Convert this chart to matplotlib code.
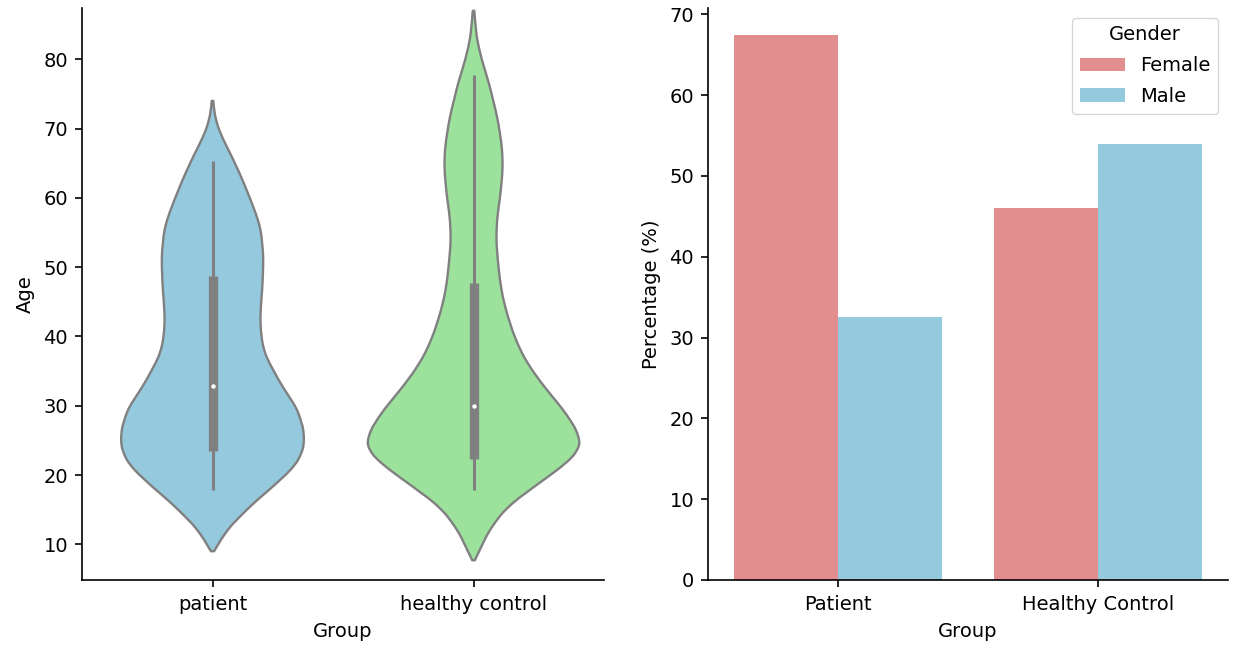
import matplotlib
matplotlib.use("Agg")
import matplotlib.pyplot as plt
import numpy as np
import seaborn as sns
from matplotlib.path import Path
from matplotlib.patches import PathPatch

plt.rcParams.update({"font.family": ["DejaVu Sans"], "font.size": 14,
                     "axes.linewidth": 1.2, "xtick.major.size": 5,
                     "ytick.major.size": 5, "xtick.major.width": 1.2,
                     "ytick.major.width": 1.2, "xtick.major.pad": 5.5,
                     "ytick.major.pad": 5, "axes.labelpad": 6})

# Age distribution per group: KDE half-width (category units) at each age
GROUPS = ["patient", "healthy control"]
patient_age = [9.0, 10.0, 11.2, 12.6, 13.6, 15.0, 16.5, 17.9, 19.4, 20.8, 22.2,
               23.7, 25.1, 26.6, 27.5, 29.0, 30.4, 32.8, 35.2, 37.0, 38.5, 40.0,
               41.9, 44.0, 46.7, 49.0, 51.5, 53.5, 55.3, 57.0, 58.7, 61.1, 63.5,
               66.0, 68.3, 70.2, 72.1, 74.0]
patient_width = [0.006, 0.022, 0.042, 0.070, 0.095, 0.132, 0.175, 0.218, 0.262,
                 0.300, 0.328, 0.345, 0.350, 0.347, 0.341, 0.328, 0.309, 0.268,
                 0.232, 0.208, 0.195, 0.188, 0.184, 0.185, 0.190, 0.193, 0.194,
                 0.190, 0.184, 0.172, 0.156, 0.131, 0.104, 0.073, 0.043, 0.022,
                 0.009, 0.003]
control_age = [7.7, 10.2, 11.6, 13.1, 14.5, 16.0, 17.4, 18.9, 20.3, 21.8, 23.1,
               24.6, 26.5, 28.5, 30.4, 32.3, 34.7, 37.1, 39.5, 41.9, 44.5, 47.0,
               49.6, 52.0, 53.9, 55.8, 57.7, 59.7, 62.1, 64.5, 66.9, 69.3, 71.7,
               74.1, 76.5, 78.9, 81.3, 83.7, 87.0]
control_width = [0.005, 0.037, 0.056, 0.082, 0.111, 0.152, 0.200, 0.254, 0.305,
                 0.355, 0.388, 0.405, 0.392, 0.360, 0.322, 0.281, 0.233, 0.193,
                 0.163, 0.140, 0.120, 0.106, 0.097, 0.091, 0.088, 0.089, 0.093,
                 0.100, 0.107, 0.111, 0.109, 0.101, 0.090, 0.075, 0.059, 0.040,
                 0.023, 0.011, 0.003]

# box-plot summary: whisker low, Q1, median, Q3, whisker high
patient_box = [17.8, 23.5, 32.9, 48.7, 65.3]
control_box = [17.8, 22.3, 30.0, 47.7, 77.8]

# gender split (%) per group
BAR_GROUPS = ["Patient", "Healthy Control"]
female_pct = [67.4, 46.0]
male_pct = [32.6, 54.0]

blue = sns.desaturate("skyblue", 0.75)
green = sns.desaturate("lightgreen", 0.75)
red = sns.desaturate("lightcoral", 0.75)


def bezier_through(pts):
    """Catmull-Rom style cubic segments passing through every point."""
    pts = np.asarray(pts, float)
    n = len(pts)
    verts, codes = [], []
    for k in range(n - 1):
        p0 = pts[max(k - 1, 0)]; p1 = pts[k]
        p2 = pts[k + 1]; p3 = pts[min(k + 2, n - 1)]
        verts += [p1 + (p2 - p0) / 6, p2 - (p3 - p1) / 6, p2]
        codes += [Path.CURVE4] * 3
    return verts, codes


def violin_patch(center, age, half, **kw):
    age = np.asarray(age); half = np.asarray(half)
    right = np.column_stack([center + half, age])
    left = np.column_stack([center - half, age])[::-1]
    verts = [right[0]]; codes = [Path.MOVETO]
    v, c = bezier_through(right); verts += v; codes += c
    verts.append(left[0]); codes.append(Path.LINETO)
    v, c = bezier_through(left); verts += v; codes += c
    verts.append(right[0]); codes.append(Path.CLOSEPOLY)
    return PathPatch(Path(verts, codes), **kw)


fig = plt.figure(figsize=(12.35, 6.45), dpi=100)
ax1 = fig.add_axes([0.0664, 0.1008, 0.4227, 0.8868])
ax2 = fig.add_axes([0.5733, 0.1008, 0.4210, 0.8868])

# ---- violins ----
violins = [(patient_age, patient_width, patient_box, blue),
           (control_age, control_width, control_box, green)]
for i, (age, w, box, col) in enumerate(violins):
    ax1.add_patch(violin_patch(i, age, w, facecolor=col, edgecolor="gray",
                               linewidth=1.7, joinstyle="round", zorder=1))
    lo, q1, med, q3, hi = box
    ax1.vlines(i, lo, hi, color="gray", linewidth=2.2, zorder=2)
    ax1.vlines(i, q1, q3, color="gray", linewidth=6.7, zorder=2)
    ax1.plot(i, med, "o", color="white", ms=3.2, mew=0, zorder=3)

ax1.set_xticks(range(len(GROUPS)), GROUPS)
ax1.set_xlim(-0.5, 1.5)
ax1.set_ylim(4.85, 87.4)
ax1.set_xlabel("Group")
ax1.set_ylabel("Age")

# ---- gender bars ----
x = np.arange(len(BAR_GROUPS)); w = 0.4
ax2.bar(x - w/2, female_pct, w, color=red, label="Female")
ax2.bar(x + w/2, male_pct, w, color=blue, label="Male")
ax2.set_xticks(x, BAR_GROUPS)
ax2.set_xlim(-0.5, 1.5)
ax2.set_xlabel("Group")
ax2.set_ylabel("Percentage (%)")
ax2.legend(title="Gender", loc="upper right", fontsize=14, title_fontsize=14,
           labelspacing=0.6, handlelength=2.3, borderaxespad=0.5)

for ax in (ax1, ax2):
    ax.spines["top"].set_visible(False)
    ax.spines["right"].set_visible(False)

fig.savefig("out.png", dpi=100)
